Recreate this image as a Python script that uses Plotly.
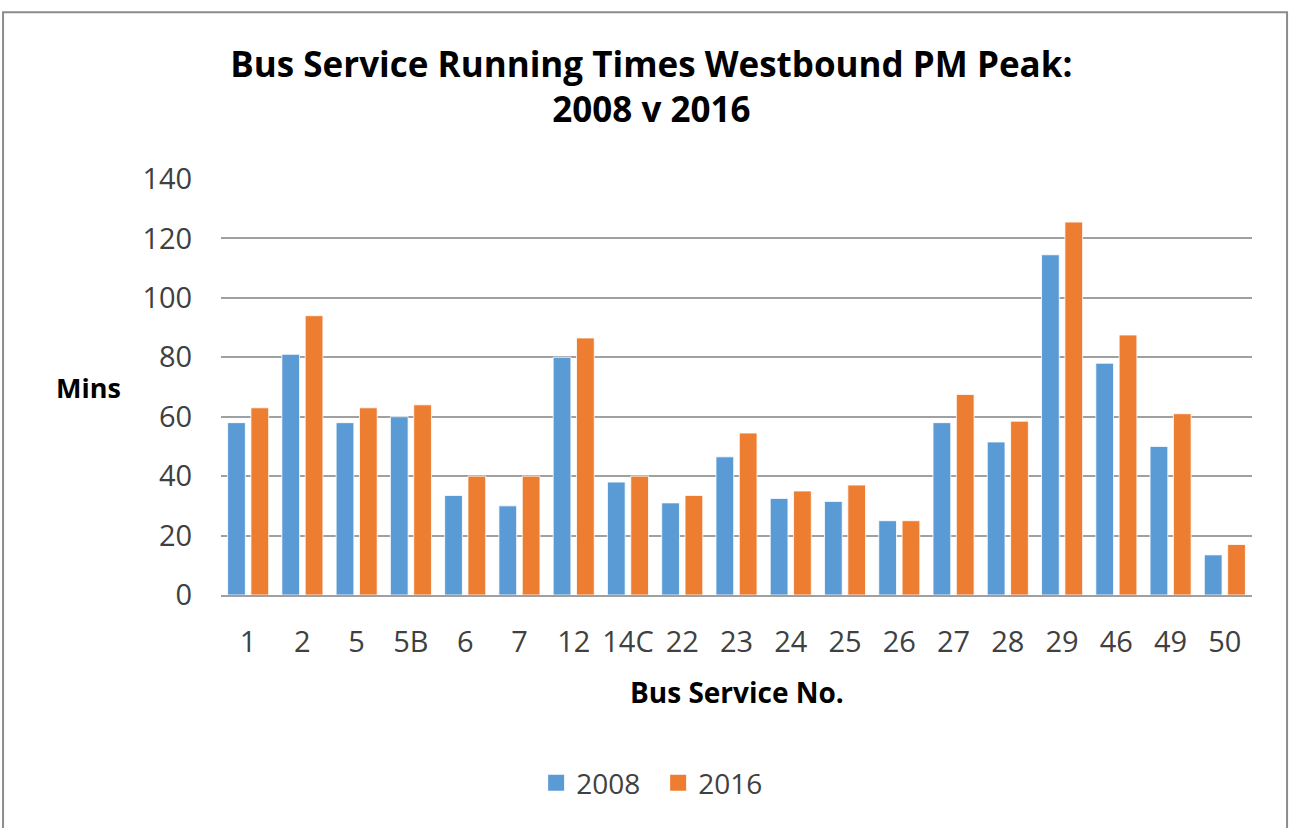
import plotly.graph_objects as go

services = ["1", "2", "5", "5B", "6", "7", "12", "14C", "22", "23", "24", "25", "26", "27", "28", "29", "46", "49", "50"]
mins_2008 = [58, 81, 58, 60, 33.5, 30, 80, 38, 31, 46.5, 32.5, 31.5, 25, 58, 51.5, 114.5, 78, 50, 13.5]
mins_2016 = [63, 94, 63, 64, 40, 40, 86.5, 40, 33.5, 54.5, 35, 37, 25, 67.5, 58.5, 125.5, 87.5, 61, 17]
y_ticks = [0, 20, 40, 60, 80, 100, 120, 140]

FONT = "Open Sans"
GREY = "#404040"
BLUE = "#5B9BD5"
ORANGE = "#ED7D31"

fig = go.Figure()
fig.add_trace(go.Bar(x=services, y=mins_2008, name="2008", showlegend=False, legendgroup="a",
                     marker=dict(color=BLUE, line=dict(color="white", width=0.8))))
fig.add_trace(go.Bar(x=services, y=mins_2016, name="2016", showlegend=False, legendgroup="b",
                     marker=dict(color=ORANGE, line=dict(color="white", width=0.8))))
# legend proxies (square markers)
fig.add_trace(go.Scatter(x=[None], y=[None], mode="markers", name="2008", legendgroup="a",
                         marker=dict(symbol="square", size=20, color=BLUE)))
fig.add_trace(go.Scatter(x=[None], y=[None], mode="markers", name="2016", legendgroup="b",
                         marker=dict(symbol="square", size=20, color=ORANGE)))

fig.update_layout(
    width=1295, height=828,
    margin=dict(l=221, r=43, t=179, b=233),
    paper_bgcolor="white", plot_bgcolor="white",
    barmode="group", bargap=0.14, bargroupgap=0.24,
    font=dict(family=FONT, color=GREY, size=20),
    showlegend=True,
    legend=dict(orientation="h", x=0.424, xanchor="center", y=-0.452, yanchor="middle",
                font=dict(size=28, color=GREY), itemwidth=30, entrywidth=77),
    title=dict(text="<b>Bus Service Running Times Westbound PM Peak:<br>2008 v 2016</b>",
               x=0.503, xanchor="center", y=0.9076, yanchor="top",
               font=dict(family=FONT, size=35, color="black")),
)
fig.update_xaxes(type="category", showgrid=False, showline=True, linecolor="#A0A0A0", linewidth=2,
                 ticks="outside", ticklen=20, tickcolor="rgba(0,0,0,0)",
                 tickfont=dict(size=29, color=GREY))
fig.update_yaxes(range=[0, 140], tickvals=y_ticks, showgrid=True, gridcolor="#A0A0A0", gridwidth=1.6,
                 zeroline=False, showline=False,
                 ticks="outside", ticklen=22, tickcolor="rgba(0,0,0,0)",
                 tickfont=dict(size=29, color=GREY))

fig.add_annotation(text="<b>Mins</b>", xref="paper", yref="paper", x=-0.1285, y=0.4976,
                   xanchor="center", yanchor="middle", showarrow=False,
                   font=dict(size=27, color="black"))
fig.add_annotation(text="<b>Bus Service No.</b>", xref="paper", yref="paper", x=0.5, y=-0.233,
                   xanchor="center", yanchor="middle", showarrow=False,
                   font=dict(size=28, color="black"))

fig.add_shape(type="rect", xref="paper", yref="paper", x0=-0.2114, x1=1.034, y0=-0.6, y1=1.401,
              line=dict(color="#8C8C8C", width=2), fillcolor="rgba(0,0,0,0)", layer="below")

fig.write_html("out.html", config={"displayModeBar": False},
               post_script="document.body.style.margin='0';")
